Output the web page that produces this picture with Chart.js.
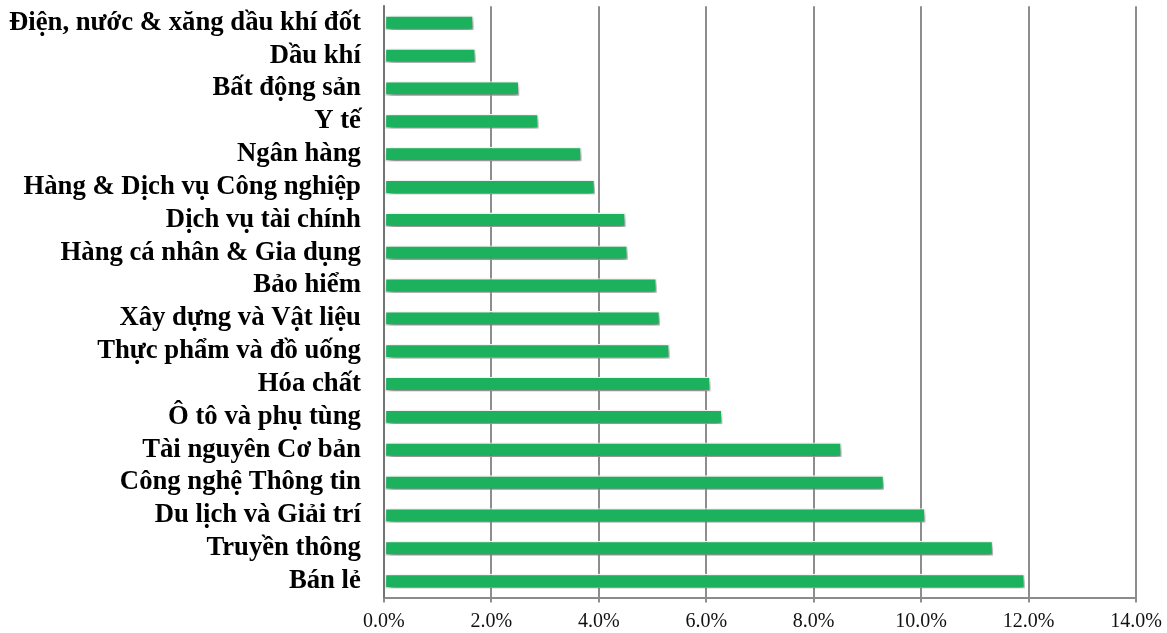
<!DOCTYPE html>
<html lang="vi">
<head>
    <meta charset="UTF-8">
    <title>Tăng trưởng theo ngành</title>
    <script src="https://cdn.jsdelivr.net/npm/chart.js"></script>
    <style>
        body { margin: 0; background: #fff; }
        #wrap { width: 1167px; height: 633px; }
    </style>
</head>
<body>
    <div id="wrap"><canvas id="myChart"></canvas></div>
    <script>
        // Ngành
        const sectors = [
            "Điện, nước & xăng dầu khí đốt",
            "Dầu khí",
            "Bất động sản",
            "Y tế",
            "Ngân hàng",
            "Hàng & Dịch vụ Công nghiệp",
            "Dịch vụ tài chính",
            "Hàng cá nhân & Gia dụng",
            "Bảo hiểm",
            "Xây dựng và Vật liệu",
            "Thực phẩm và đồ uống",
            "Hóa chất",
            "Ô tô và phụ tùng",
            "Tài nguyên Cơ bản",
            "Công nghệ Thông tin",
            "Du lịch và Giải trí",
            "Truyền thông",
            "Bán lẻ"
        ];

        // % values
        const growth = [1.67, 1.71, 2.52, 2.88, 3.68, 3.93, 4.50, 4.54, 5.08, 5.14,
                        5.32, 6.08, 6.30, 8.52, 9.31, 10.08, 11.34, 11.93];

        // axis ticks: 0.0% .. 14.0%
        const tickMin = 0, tickMax = 14, tickStep = 2;

        // soft drop shadow under the bars
        const barShadow = {
            id: "barShadow",
            beforeDatasetsDraw(chart) {
                const c = chart.ctx;
                c.save();
                c.shadowColor = "rgba(0,0,0,0.5)";
                c.shadowBlur = 7;
                c.shadowOffsetX = 2;
                c.shadowOffsetY = 4;
            },
            afterDatasetsDraw(chart) {
                chart.ctx.restore();
            }
        };

        const ctx = document.getElementById("myChart").getContext("2d");
        new Chart(ctx, {
            type: "bar",
            data: {
                labels: sectors,
                datasets: [{
                    data: growth,
                    backgroundColor: "#1bb15d",
                    borderColor: "#ffffff",
                    borderWidth: 1.3,
                    borderSkipped: false,
                    categoryPercentage: 1,
                    barPercentage: 0.44
                }]
            },
            options: {
                indexAxis: "y",
                responsive: true,
                maintainAspectRatio: false,
                animation: false,
                layout: { padding: { top: 0, right: 31, left: 8, bottom: 0 } },
                plugins: {
                    legend: { display: false },
                    tooltip: { enabled: false }
                },
                scales: {
                    x: {
                        z: 1,
                        min: tickMin,
                        max: tickMax,
                        afterFit: scale => { scale.height = 35.5; },
                        ticks: {
                            stepSize: tickStep,
                            color: "#111",
                            padding: 5,
                            font: { family: "Liberation Serif", size: 20, lineHeight: 1.45 },
                            callback: v => v.toFixed(1) + "%"
                        },
                        grid: {
                            color: "rgba(80,80,80,0.65)",
                            lineWidth: 2,
                            tickLength: 5
                        },
                        border: { color: "rgba(110,110,110,0.8)", width: 2 }
                    },
                    y: {
                        ticks: {
                            color: "#000",
                            padding: 1,
                            font: { family: "Liberation Serif", size: 26.7, weight: "bold", lineHeight: 0.4 }
                        },
                        grid: {
                            display: true,
                            drawOnChartArea: false,
                            drawTicks: true,
                            tickLength: 22,
                            tickColor: "rgba(0,0,0,0)"
                        },
                        border: { color: "rgba(110,110,110,0.8)", width: 2 }
                    }
                }
            },
            plugins: [barShadow]
        });
    </script>
</body>
</html>
